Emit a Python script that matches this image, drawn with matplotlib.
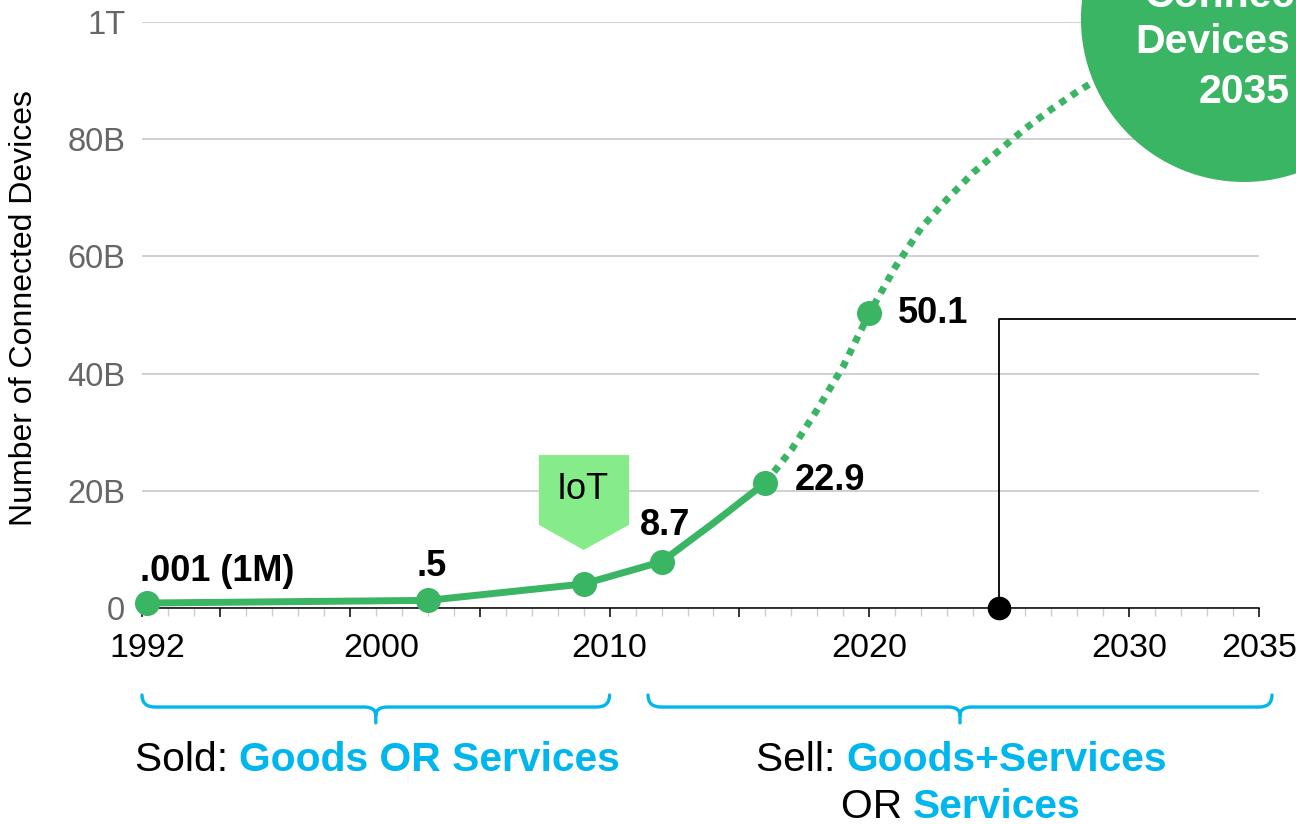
import matplotlib
matplotlib.use("Agg")
import matplotlib.pyplot as plt
from matplotlib.patches import Ellipse, Polygon, PathPatch
from matplotlib.path import Path

plt.rcParams['font.family'] = ['Liberation Sans', 'DejaVu Sans']

# ========== DATA ==========
actual_years = [1992.2, 2003, 2009, 2012, 2014, 2016]
actual_values = [0.85, 1.3, 4.1, 7.9, 14.5, 21.4]
actual_marked = [1992.2, 2003, 2009, 2012, 2016]

proj_years = [2016, 2017, 2018, 2019, 2020, 2021, 2022, 2023, 2024, 2025,
              2026, 2027, 2028, 2029, 2030]
proj_values = [21.4, 27.0, 33.9, 41.3, 50.3, 58.2, 64.9, 69.8, 74.3, 78.1,
               81.8, 85.1, 88.1, 90.8, 93.0]
proj_marked = [2020]

point_labels = ['.001 (1M)', '.5', '8.7', '22.9', '50.1']
point_label_years = [1992.2, 2003, 2012, 2016, 2020]
point_label_values = [0.85, 1.3, 7.9, 21.4, 50.3]

ytick_values = [0, 20, 40, 60, 80, 100]
ytick_labels = ['0', '20B', '40B', '60B', '80B', '1T']
xtick_labels = ['1992', '2000', '2010', '2020', '2030', '2035']

iot_year = 2009
marker_year = 2025
marker_level = 49.4

# ========== STYLE ==========
green = '#39b563'
cyan = '#00b6ee'
label_offsets = [(-5, 16, 'left'), (3, 17.5, 'center'), (-15.5, 19, 'left'),
                 (21, -5.3, 'left'), (20.5, -7, 'left')]
xtick_label_pos = [1992.2, 2001.2, 2010, 2020, 2030, 2035]

fig = plt.figure(figsize=(12.96, 8.24), dpi=100)
ax = fig.add_axes([142 / 1296, 216 / 824, 1117 / 1296, 586 / 824])
ax.set_xlim(1992, 2035)
ax.set_ylim(0, 100)

# grid + axes
ax.set_yticks(ytick_values)
ax.set_yticklabels(ytick_labels)
ax.yaxis.grid(True, color='#c8c8c8', linewidth=1.2, zorder=0)
ax.set_axisbelow(True)
for s in ['top', 'right', 'left']:
    ax.spines[s].set_visible(False)
ax.spines['bottom'].set_linewidth(1.1)
ax.spines['bottom'].set_zorder(2)
ax.tick_params(axis='y', length=0, pad=12, labelsize=23.5, labelcolor='#666666')

ax.set_xticks([1992] + list(range(1995, 2036, 5)))
ax.set_xticklabels([])
ax.set_xticks(range(1992, 2036), minor=True)
ax.tick_params(axis='x', which='major', length=6.5, width=1.1, color='black')
ax.tick_params(axis='x', which='minor', length=6, width=1.0, color='#cccccc')
for lab, xp in zip(xtick_labels, xtick_label_pos):
    ax.text(xp, -0.0836, lab, transform=ax.get_xaxis_transform(),
            ha='center', va='baseline', fontsize=24.5, color='black')

fig.text(24 / 1296, 1 - 308 / 824, 'Number of Connected Devices', rotation=90,
         ha='center', va='center', fontsize=23, color='black')

# lines
ax.plot(actual_years, actual_values, color=green, lw=5, solid_capstyle='round',
        solid_joinstyle='round', zorder=4, clip_on=False)
ax.plot(actual_marked, [actual_values[actual_years.index(y)] for y in actual_marked],
        'o', color=green, ms=17, zorder=5, clip_on=False)
ax.plot(proj_years, proj_values, color=green, lw=5, linestyle=(0, (1, 1)),
        dash_capstyle='butt', zorder=4, clip_on=False)
ax.plot(proj_marked, [proj_values[proj_years.index(y)] for y in proj_marked],
        'o', color=green, ms=17, zorder=5, clip_on=False)

for txt, xv, yv, (dx, dy, ha) in zip(point_labels, point_label_years,
                                     point_label_values, label_offsets):
    ax.annotate(txt, (xv, yv), xytext=(dx, dy), textcoords='offset points',
                ha=ha, va='baseline', fontsize=26, fontweight='bold',
                color='black', zorder=6)

# black marker line
ax.plot([marker_year, marker_year, 2036.6], [0, marker_level, marker_level],
        color='black', lw=1.3, zorder=3, clip_on=False)
ax.plot([marker_year], [0], 'o', color='black', ms=16, zorder=6, clip_on=False)

# IoT tag
iot = Polygon([(iot_year - 1.72, 26.1), (iot_year + 1.75, 26.1),
               (iot_year + 1.75, 14.2), (iot_year, 9.9),
               (iot_year - 1.72, 14.2)], closed=True, facecolor='#86ec8a',
              edgecolor='none', zorder=3)
ax.add_patch(iot)
ax.text(iot_year - 0.05, 20.3, 'IoT', ha='center', va='center', fontsize=26,
        color='black', zorder=4)

# big circle
circ = Ellipse((2034.42, 100.5), 12.55, 55.6, facecolor=green, edgecolor='none',
               zorder=7, clip_on=False)
ax.add_patch(circ)
ax.text(2030.6, 102.6, 'Connected', ha='left', va='baseline', fontsize=29.5,
        fontweight='bold', color='white', zorder=8)
ax.text(2036.19, 94.7, 'Devices', ha='right', va='baseline', fontsize=29.5,
        fontweight='bold', color='white', zorder=8)
ax.text(2036.19, 86.2, '2035', ha='right', va='baseline', fontsize=29.5,
        fontweight='bold', color='white', zorder=8)


# braces
def draw_brace(x0, x1, y_end=-14.85, y_h=-16.9, y_tip=-19.6, rx=0.5, rx2=0.45):
    xm = (x0 + x1) / 2
    ym = y_h - 1.4
    verts = [(x0, y_end), (x0, y_h), (x0 + rx, y_h),
             (xm - rx2, y_h), (xm, y_h), (xm, ym), (xm, y_tip),
             (xm, ym), (xm, y_h), (xm + rx2, y_h),
             (x1 - rx, y_h), (x1, y_h), (x1, y_end)]
    codes = [Path.MOVETO, Path.CURVE3, Path.CURVE3,
             Path.LINETO, Path.CURVE3, Path.CURVE3, Path.LINETO,
             Path.MOVETO, Path.CURVE3, Path.CURVE3,
             Path.LINETO, Path.CURVE3, Path.CURVE3]
    patch = PathPatch(Path(verts, codes), facecolor='none', edgecolor=cyan,
                      lw=2.4, capstyle='round', joinstyle='round', clip_on=False)
    ax.add_patch(patch)


draw_brace(1992, 2010)
draw_brace(2011.48, 2035.5)


def two_part(x, y, first, second):
    t1 = ax.text(x, y, first, ha='left', va='baseline', fontsize=29.3,
                 color='black', clip_on=False)
    ax.annotate(second, xy=(1, 0), xycoords=t1, ha='left', va='bottom',
                fontsize=29.3, fontweight='bold', color=cyan)


two_part(1991.73, -27.8, 'Sold: ', 'Goods OR Services')
two_part(2015.63, -27.8, 'Sell: ', 'Goods+Services')
two_part(2018.9, -35.8, 'OR ', 'Services')

fig.savefig('out.png', dpi=100)
